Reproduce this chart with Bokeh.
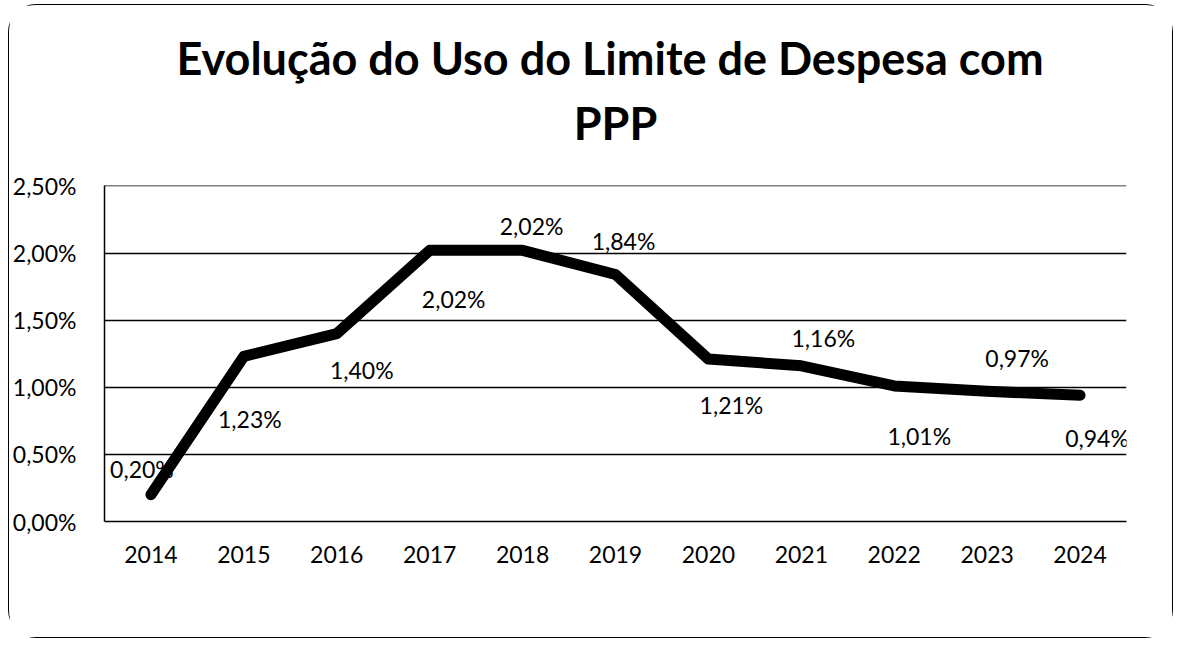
from bokeh.plotting import figure
from bokeh.models import FixedTicker, Title, ColumnDataSource, Range1d
from bokeh.core.properties import value
from bokeh.embed import file_html
from bokeh.resources import INLINE

# ---- data ----
years = ["2014", "2015", "2016", "2017", "2018", "2019", "2020", "2021", "2022", "2023", "2024"]
uso_limite = [0.20, 1.23, 1.40, 2.02, 2.02, 1.84, 1.21, 1.16, 1.01, 0.97, 0.94]
y_ticks = [0.0, 0.5, 1.0, 1.5, 2.0, 2.5]
y_tick_labels = ["0,00%", "0,50%", "1,00%", "1,50%", "2,00%", "2,50%"]
title_lines = ["Evolução  do Uso do Limite de Despesa com", "PPP"]

# ---- label placement (pixel offsets relative to each point; style only) ----
label_dx = [-9, 6, 25, 24, 9, 8, 23, 22, 25, 30, 17]
label_dy = [-26, 63, 36, 49, -24, -34, 46, -28, 50, -33, 43]

FONT = "Lato"

p = figure(
    x_range=years, y_range=Range1d(0, 2.503),
    width=1165, height=634,
    output_backend="svg", toolbar_location=None,
    min_border_left=93, min_border_right=48,
    min_border_top=180, min_border_bottom=118,
)
p.margin = (4, 0, 0, 8)
p.styles = {"border": "1.6px solid black", "border-radius": "28px", "box-sizing": "border-box"}
p.outline_line_color = None
p.background_fill_color = "white"
p.border_fill_color = "white"

# title: spacer nearest the frame, then second line, then first line
p.title = None
p.add_layout(Title(text=" ", text_font_size="1px", standoff=33), "above")
p.add_layout(Title(text=title_lines[1], align="center", offset=-8,
                   text_font=FONT, text_font_size="45px", text_font_style="bold",
                   text_color="black", standoff=0), "above")
p.add_layout(Title(text=title_lines[0], align="center", offset=-8,
                   text_font=FONT, text_font_size="45px", text_font_style="bold",
                   text_color="black", standoff=18), "above")

# grid
p.xgrid.grid_line_color = None
p.ygrid.grid_line_color = "black"
p.ygrid.grid_line_width = 1.5
p.ygrid.ticker = FixedTicker(ticks=y_ticks)

# y axis
p.yaxis.ticker = FixedTicker(ticks=y_ticks)
p.yaxis.major_label_overrides = {t: l for t, l in zip(y_ticks, y_tick_labels)}
p.yaxis.axis_line_color = "black"
p.yaxis.axis_line_width = 1.5
p.yaxis.major_tick_line_color = None
p.yaxis.minor_tick_line_color = None
p.yaxis.major_label_standoff = 22
p.yaxis.major_label_text_font = FONT
p.yaxis.major_label_text_font_size = "23px"
p.yaxis.major_label_text_color = "black"

# x axis
p.xaxis.axis_line_color = "black"
p.xaxis.axis_line_width = 1.5
p.xaxis.major_tick_line_color = None
p.xaxis.minor_tick_line_color = None
p.xaxis.major_label_standoff = 18
p.xaxis.major_label_text_font = FONT
p.xaxis.major_label_text_font_size = "23px"
p.xaxis.major_label_text_color = "black"

src = ColumnDataSource(dict(
    x=years, y=uso_limite,
    txt=[f"{v:.2f}%".replace(".", ",") for v in uso_limite],
    dx=label_dx, dy=label_dy,
))

p.line("x", "y", source=src, line_color="black", line_width=11,
       line_join="round", line_cap="round")

p.text("x", "y", text="txt", source=src, x_offset="dx", y_offset="dy",
       text_align="center", text_baseline="middle",
       text_font=value(FONT), text_font_size="23px", text_color="black")

open("out.html", "w").write(file_html(p, INLINE))
